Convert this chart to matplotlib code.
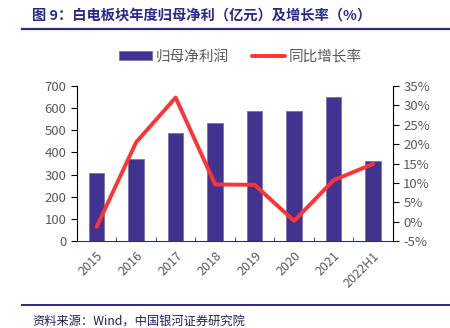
import matplotlib
matplotlib.use("Agg")
import matplotlib.pyplot as plt
from matplotlib.ticker import FixedLocator, FuncFormatter
import numpy as np

plt.rcParams['font.family'] = ['Noto Sans CJK SC', 'DejaVu Sans']

years = ["2015", "2016", "2017", "2018", "2019", "2020", "2021", "2022H1"]
profit = [306, 369, 486, 535, 587, 587, 650, 362]          # 亿元
growth = [-1.3, 20.5, 32.0, 9.6, 9.5, 0.2, 10.7, 14.9]     # %

bar_color = "#41338f"
line_color = "#ff3333"
tick_color = "#595959"
navy = "#2b2a8a"

fig = plt.figure(figsize=(4.5, 3.28), dpi=100)
ax = fig.add_axes([0.171, 0.265, 0.702, 0.473])
ax2 = ax.twinx()

x = np.arange(len(years))
bars = ax.bar(x, profit, width=0.39, color=bar_color, edgecolor="#7a70b8",
              linewidth=0.6, label="归母净利润", zorder=2)
line, = ax2.plot(x, growth, color=line_color, linewidth=2.8,
                 solid_capstyle="round", label="同比增长率", zorder=3)

ax.set_xlim(-0.5, len(years) - 0.5)
ax.set_ylim(0, 700)
ax.set_yticks(np.arange(0, 701, 100))
ax2.set_ylim(-5, 35)
ax2.set_yticks(np.arange(-5, 36, 5))
ax2.yaxis.set_major_formatter(FuncFormatter(lambda v, p: f"{int(v)}%"))

ax.set_xticks(x)
ax.set_xticklabels(years, rotation=45, ha="right", rotation_mode="anchor")
ax.xaxis.set_minor_locator(FixedLocator(np.arange(-0.5, len(years), 1.0)))
ax.tick_params(axis="x", which="major", length=0, pad=6, colors=tick_color, labelsize=9)
ax.tick_params(axis="x", which="minor", length=3, direction="in", color=navy)
ax.tick_params(axis="y", length=4, direction="out", colors=tick_color, labelsize=9.5, color="black")
ax2.tick_params(axis="y", length=4, direction="out", colors=tick_color, labelsize=9.5, color="black")

for a in (ax, ax2):
    a.spines["top"].set_visible(False)
    a.spines["bottom"].set_color(navy)
    a.spines["left"].set_color("black")
    a.spines["right"].set_color("black")
ax.spines["right"].set_visible(False)
ax2.spines["left"].set_visible(False)
ax2.spines["bottom"].set_visible(False)

fig.legend([bars, line], ["归母净利润", "同比增长率"], loc="center",
           bbox_to_anchor=(0.535, 0.828), ncol=2, frameon=False,
           fontsize=10.5, labelcolor=tick_color, handlelength=2.2,
           handleheight=0.6, columnspacing=1.6, handletextpad=0.3)

fig.text(0.071, 0.953, "图 9：白电板块年度归母净利（亿元）及增长率（%）",
         fontsize=10.3, fontweight="bold", color=navy, va="center")
fig.add_artist(plt.Line2D([0.049, 1.0], [0.912, 0.912], color=navy, linewidth=1.6,
                          transform=fig.transFigure))
fig.add_artist(plt.Line2D([0.049, 1.0], [0.07, 0.07], color=navy, linewidth=1.4,
                          transform=fig.transFigure))
fig.text(0.073, 0.018, "资料来源：Wind，中国银河证券研究院", fontsize=8.8,
         style="italic", color="#1f1f5c", va="center")

fig.savefig("out.png", dpi=100, facecolor="white")
